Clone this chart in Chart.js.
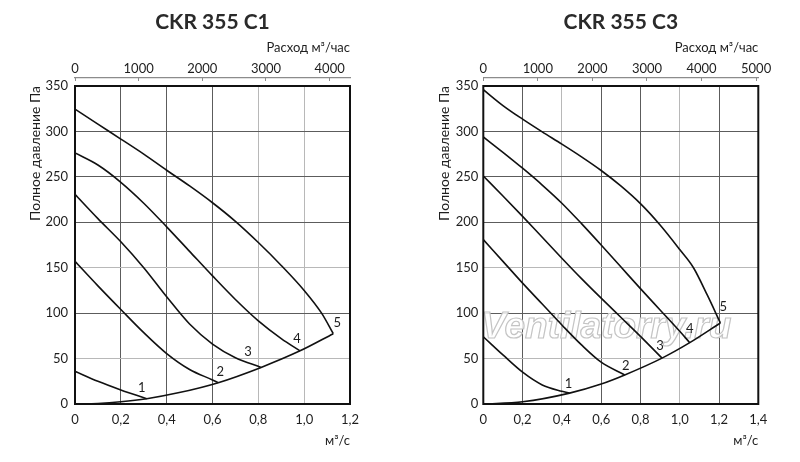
<!DOCTYPE html>
<html lang="ru">
<head>
<meta charset="utf-8">
<title>CKR 355 C1 / CKR 355 C3</title>
<script src="https://cdn.jsdelivr.net/npm/chart.js@4/dist/chart.umd.min.js"></script>
<style>
    html, body { margin: 0; padding: 0; background: #fff; }
    .wrap { position: relative; width: 800px; height: 462px; }
    .wrap canvas { position: absolute; top: 0; }
    #chartC1 { left: 0; }
    #chartC3 { left: 400px; }
</style>
</head>
<body>
<div class="wrap">
    <canvas id="chartC1" width="400" height="462"></canvas>
    <canvas id="chartC3" width="400" height="462"></canvas>
</div>
<script>
/* ============================
   Fan curves
   flow in m³/s, pressure in Pa
   ============================ */

const pressureMax = 350;
const pressureStep = 50;
const flowStep = 0.2;
const speedNames = ['1', '2', '3', '4', '5'];

// CKR 355 C1
const c1FlowMax = 1.2;
const c1HourTicks = [0, 1000, 2000, 3000, 4000];
const c1Speed1 = [[0, 36], [0.1, 25], [0.2, 15.5], [0.313, 5.8]];
const c1Speed2 = [[0, 157], [0.1, 130], [0.2, 104], [0.3, 78.5], [0.4, 55.5], [0.5, 38], [0.6, 26.5], [0.625, 23.5]];
const c1Speed3 = [[0, 230.7], [0.1, 204], [0.2, 178.5], [0.3, 150], [0.4, 118], [0.5, 88], [0.6, 66], [0.7, 51], [0.812, 40.3]];
const c1Speed4 = [[0, 276.3], [0.1, 263], [0.2, 244], [0.3, 221], [0.4, 195], [0.5, 168], [0.6, 141], [0.7, 115], [0.8, 91.5], [0.9, 72], [0.982, 58.5]];
const c1Speed5 = [[0, 324.5], [0.1, 308], [0.2, 291.6], [0.3, 275], [0.4, 257.3], [0.5, 240], [0.6, 221.5], [0.7, 201], [0.8, 177.7], [0.9, 152.5], [1.0, 125], [1.076, 100], [1.127, 77.4]];
const c1Network = [[0, 0], [0.1, 0.6], [0.2, 2.4], [0.313, 5.8], [0.45, 12.3], [0.625, 23.5], [0.812, 40.3], [0.982, 58.5], [1.127, 77.4]];

// CKR 355 C3
const c3FlowMax = 1.4;
const c3HourTicks = [0, 1000, 2000, 3000, 4000, 5000];
const c3Speed1 = [[0, 74], [0.1, 54], [0.2, 35], [0.3, 21], [0.4, 14], [0.439, 12]];
const c3Speed2 = [[0, 181], [0.1, 157], [0.2, 133], [0.3, 110], [0.4, 87], [0.5, 65], [0.6, 46], [0.72, 32]];
const c3Speed3 = [[0, 251], [0.1, 229], [0.2, 206.5], [0.3, 183.5], [0.4, 160.5], [0.5, 138], [0.6, 116.5], [0.7, 95.5], [0.8, 74.5], [0.91, 50.5]];
const c3Speed4 = [[0, 294], [0.1, 277], [0.2, 259.5], [0.3, 241], [0.4, 221], [0.5, 198.5], [0.6, 175], [0.7, 151], [0.8, 127], [0.9, 103.5], [1.0, 80], [1.051, 67.5]];
const c3Speed5 = [[0, 346], [0.1, 328.5], [0.2, 313.5], [0.3, 299.5], [0.4, 286], [0.5, 272], [0.6, 257], [0.7, 240], [0.8, 220.5], [0.9, 197], [1.0, 170], [1.07, 150], [1.14, 120], [1.207, 89.2]];
const c3Network = [[0, 0], [0.2, 2.4], [0.439, 12], [0.6, 22], [0.72, 32], [0.91, 50.5], [1.051, 67.5], [1.207, 89.2]];

const GRID_DARK = '#5c5c5c';
const GRID_LIGHT = '#b8b8b8';
const AXIS_GRAY = '#8c8c8c';
const INK = '#1e1e1e';

Chart.defaults.font.family = 'Lato, "Open Sans", sans-serif';
Chart.defaults.font.size = 13;
Chart.defaults.color = INK;

const round1 = v => Math.round(v * 10) / 10;
const fmtFlow = v => (v === 0 ? '0' : round1(v).toFixed(1).replace('.', ','));
const toPoints = arr => arr.map(([x, y]) => ({ x, y }));

// black frame round the plot
const framePlugin = {
    id: 'frame',
    afterDraw(chart) {
        const { ctx, chartArea: a } = chart;
        ctx.save();
        ctx.strokeStyle = '#111';
        ctx.lineWidth = 2;
        ctx.strokeRect(a.left, a.top, a.right - a.left, a.bottom - a.top);
        ctx.restore();
    }
};

// "1".."5" next to the end of each speed curve
const speedLabelPlugin = {
    id: 'speedLabels',
    afterDatasetsDraw(chart, args, opts) {
        const { ctx, scales } = chart;
        ctx.save();
        ctx.font = '13px Lato, "Open Sans", sans-serif';
        ctx.fillStyle = INK;
        ctx.textAlign = 'center';
        ctx.textBaseline = 'middle';
        speedNames.forEach((name, i) => {
            const pts = chart.data.datasets[i].data;
            const end = pts[pts.length - 1];
            const [dx, dy] = opts.shift[i];
            ctx.fillText(name, scales.x.getPixelForValue(end.x) + dx, scales.y.getPixelForValue(end.y) + dy);
        });
        ctx.restore();
    }
};

const watermarkPlugin = {
    id: 'watermark',
    beforeDatasetsDraw(chart, args, opts) {
        if (!opts.text) return;
        const { ctx, chartArea: a } = chart;
        ctx.save();
        ctx.font = 'italic bold 37px "Liberation Sans", Arial, sans-serif';
        ctx.textAlign = 'center';
        ctx.textBaseline = 'middle';
        const cx = a.left + (a.right - a.left) * 0.447;
        const cy = a.top + (a.bottom - a.top) * 0.761;
        ctx.fillStyle = 'rgba(255,255,255,0.85)';
        ctx.fillText(opts.text, cx, cy);
        ctx.strokeStyle = '#c4c4c4';
        ctx.lineWidth = 1.2;
        ctx.strokeText(opts.text, cx, cy);
        ctx.restore();
    }
};

function makeChart(id, cfg) {
    const datasets = cfg.speeds.map(s => ({ data: toPoints(s) }));
    datasets.push({ data: toPoints(cfg.network) });

    const gridColor = light => ctx =>
        (ctx.tick && light.includes(round1(ctx.tick.value))) ? GRID_LIGHT : GRID_DARK;

    return new Chart(document.getElementById(id), {
        type: 'line',
        data: { datasets },
        plugins: [framePlugin, speedLabelPlugin, watermarkPlugin],
        options: {
            responsive: false,
            animation: false,
            layout: { padding: { left: 0, right: cfg.padRight, top: 0, bottom: 0 } },
            elements: {
                point: { radius: 0 },
                line: { borderColor: '#111', borderWidth: 1.6, cubicInterpolationMode: 'monotone', fill: false }
            },
            plugins: {
                legend: { display: false },
                tooltip: { enabled: false },
                title: {
                    display: true,
                    text: cfg.title,
                    fullSize: false,
                    padding: { top: 10, bottom: 0 },
                    color: '#2a2a2a',
                    font: { size: 21, weight: 'bold' }
                },
                speedLabels: { shift: cfg.labelShift },
                watermark: { text: cfg.watermark || '' }
            },
            scales: {
                x: {
                    type: 'linear',
                    position: 'bottom',
                    min: 0,
                    max: cfg.flowMax,
                    ticks: { stepSize: flowStep, padding: 8, callback: fmtFlow },
                    grid: { drawTicks: false, color: gridColor(cfg.lightX) },
                    border: { display: false },
                    title: { display: true, text: 'м³/с', align: 'end', padding: { top: 0, bottom: 13 } },
                    afterFit: s => { s.height = 58; }
                },
                xHour: {
                    type: 'linear',
                    position: 'top',
                    weight: 1,
                    min: 0,
                    max: cfg.flowMax * 3600,
                    afterBuildTicks: s => { s.ticks = cfg.hourTicks.map(value => ({ value })); },
                    ticks: { padding: 4, callback: v => String(v) },
                    grid: { drawOnChartArea: false, drawTicks: true, tickLength: -3, color: AXIS_GRAY },
                    border: { display: true, color: AXIS_GRAY, width: 1.2 },
                    title: { display: true, text: 'Расход м³/час', align: 'end', padding: { top: 4.7, bottom: 0 } },
                    afterFit: s => { s.height = 42.8; }
                },
                gap: {
                    type: 'linear',
                    position: 'top',
                    weight: 0,
                    ticks: { display: false },
                    grid: { display: false },
                    border: { display: false },
                    afterFit: s => { s.height = 8; }
                },
                y: {
                    type: 'linear',
                    position: 'left',
                    min: 0,
                    max: pressureMax,
                    ticks: { stepSize: pressureStep, padding: cfg.yTickPad },
                    grid: { drawTicks: false, color: gridColor(cfg.lightY) },
                    border: { display: false },
                    title: {
                        display: true,
                        text: 'Полное давление Па',
                        align: 'end',
                        font: { size: 14 },
                        padding: { top: cfg.yTitlePad, bottom: 0 }
                    },
                    afterFit: s => { s.width = cfg.yWidth; }
                }
            }
        }
    });
}

makeChart('chartC1', {
    title: 'CKR 355 C1',
    flowMax: c1FlowMax,
    hourTicks: c1HourTicks,
    speeds: [c1Speed1, c1Speed2, c1Speed3, c1Speed4, c1Speed5],
    network: c1Network,
    yWidth: 75,
    padRight: 50,
    yTickPad: 7,
    yTitlePad: 26.6,
    lightX: [0.8, 1.0],
    lightY: [50, 150],
    labelShift: [[-5, -11], [2, -11], [-13, -16], [-3, -12], [4, -11]]
});

makeChart('chartC3', {
    title: 'CKR 355 C3',
    flowMax: c3FlowMax,
    hourTicks: c3HourTicks,
    speeds: [c3Speed1, c3Speed2, c3Speed3, c3Speed4, c3Speed5],
    network: c3Network,
    yWidth: 83.3,
    padRight: 41.7,
    yTickPad: 5,
    yTitlePad: 36,
    lightX: [0.4, 1.0],
    lightY: [50, 150],
    labelShift: [[-1, -9], [1, -9], [-2, -12], [0, -14], [3, -16]],
    watermark: 'Ventilatorry.ru'
});
</script>
</body>
</html>
